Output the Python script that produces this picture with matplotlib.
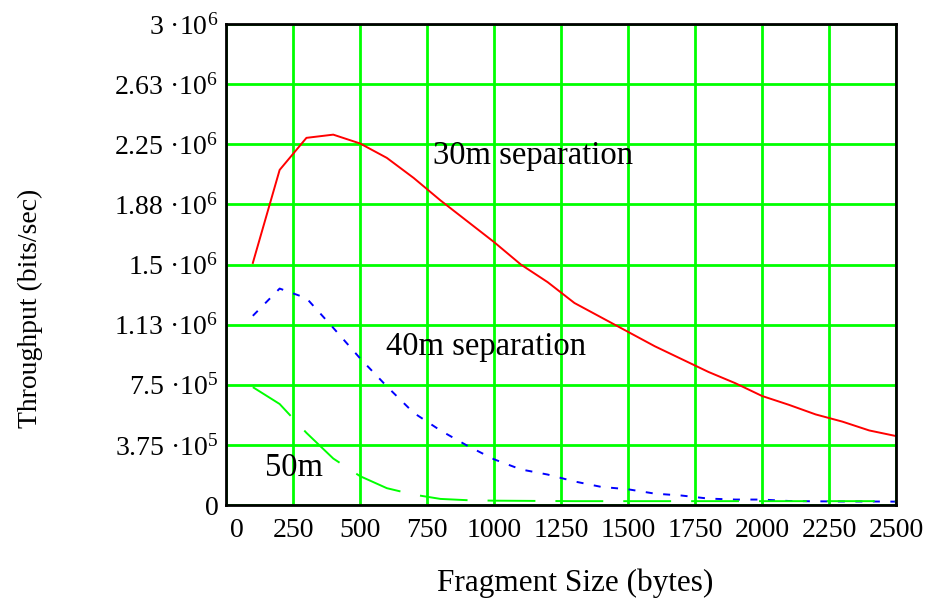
import matplotlib
matplotlib.use("Agg")
import matplotlib.pyplot as plt
import matplotlib.transforms as mtransforms

plt.rcParams["font.family"] = ["Liberation Serif", "DejaVu Serif"]
plt.rcParams["mathtext.fontset"] = "custom"
plt.rcParams["mathtext.rm"] = "Liberation Serif"
plt.rcParams["mathtext.it"] = "Liberation Serif:italic"

# fragment sizes (bytes) and throughput (bits/sec) per station separation
frag_size = [100, 200, 300, 400, 500, 600, 700, 800, 900, 1000, 1100, 1200, 1300,
             1400, 1500, 1600, 1700, 1800, 1900, 2000, 2100, 2200, 2300, 2400, 2500]
thr_30m = [1.51e6, 2.09e6, 2.29e6, 2.31e6, 2.255e6, 2.165e6, 2.04e6, 1.90e6, 1.77e6,
           1.64e6, 1.50e6, 1.39e6, 1.26e6, 1.17e6, 1.08e6, 0.99e6, 0.91e6, 0.83e6,
           0.76e6, 0.68e6, 0.625e6, 0.565e6, 0.52e6, 0.465e6, 0.43e6]
thr_40m = [1.18e6, 1.35e6, 1.29e6, 1.105e6, 0.915e6, 0.74e6, 0.575e6, 0.465e6, 0.37e6,
           0.285e6, 0.222e6, 0.19e6, 0.147e6, 0.113e6, 0.098e6, 0.071e6, 0.059e6,
           0.04e6, 0.034e6, 0.034e6, 0.025e6, 0.023e6, 0.022e6, 0.022e6, 0.021e6]
thr_50m = [0.735e6, 0.63e6, 0.45e6, 0.29e6, 0.18e6, 0.105e6, 0.065e6, 0.038e6, 0.03e6,
           0.027e6, 0.026e6, 0.025e6, 0.024e6, 0.024e6, 0.024e6, 0.024e6, 0.024e6,
           0.024e6, 0.024e6, 0.024e6, 0.024e6, 0.024e6, 0.024e6, 0.024e6, 0.024e6]

x_ticks = [0, 250, 500, 750, 1000, 1250, 1500, 1750, 2000, 2250, 2500]
y_ticks = [0, 3.75e5, 7.5e5, 1.125e6, 1.5e6, 1.875e6, 2.25e6, 2.625e6, 3e6]
y_tick_labels = ["0", "3.75 ·10$^{5}$", "7.5 ·10$^{5}$", "1.13 ·10$^{6}$",
                 "1.5 ·10$^{6}$", "1.88 ·10$^{6}$", "2.25 ·10$^{6}$",
                 "2.63 ·10$^{6}$", "3 ·10$^{6}$"]

fig = plt.figure(figsize=(9.36, 6.08), dpi=100)
ax = fig.add_axes([0.2415, 0.1694, 0.7158, 0.7911])

lw = 1.4
ax.plot(frag_size, thr_30m, color="#ff0000", linewidth=lw, zorder=3)
ax.plot(frag_size, thr_40m, color="#0000ff", linewidth=lw, dashes=(3.6, 5.4), zorder=3)
ax.plot(frag_size, thr_50m, color="#00ff00", linewidth=lw, dashes=(24.6, 10.3), zorder=3)

ax.set_xlim(0, 2500)
ax.set_ylim(0, 3e6)
ax.set_xticks(x_ticks)
ax.set_xticklabels([str(v) for v in x_ticks])
ax.set_yticks(y_ticks)
ax.set_yticklabels(y_tick_labels)
ax.grid(True, color="#00ff00", linewidth=2.0, zorder=1)
ax.set_axisbelow(True)
ax.tick_params(length=0, labelsize=20)
ax.tick_params(axis="y", pad=5.5)
ax.tick_params(axis="x", pad=9)
for side in ax.spines.values():
    side.set_linewidth(2.0)
    side.set_color("black")
    side.set_zorder(4)

# nudge the x origin label clear of the y axis
shift = mtransforms.ScaledTranslation(11 / 100, 0, fig.dpi_scale_trans)
first = ax.get_xticklabels()[0]
first.set_transform(first.get_transform() + shift)

ax.text(773, 2.18e6, "30m separation", fontsize=23.5, ha="left", va="center")
ax.text(598, 0.99e6, "40m separation", fontsize=23.5, ha="left", va="center")
ax.text(147, 0.23e6, "50m", fontsize=23.5, ha="left", va="center")

fig.text(30 / 936, 1 - 308 / 608, "Throughput (bits/sec)", rotation=90,
         fontsize=20, ha="center", va="center")
fig.text(575 / 936, 1 - 583 / 608, "Fragment Size (bytes)", fontsize=22.5,
         ha="center", va="center")

fig.savefig("out.png", dpi=100)
